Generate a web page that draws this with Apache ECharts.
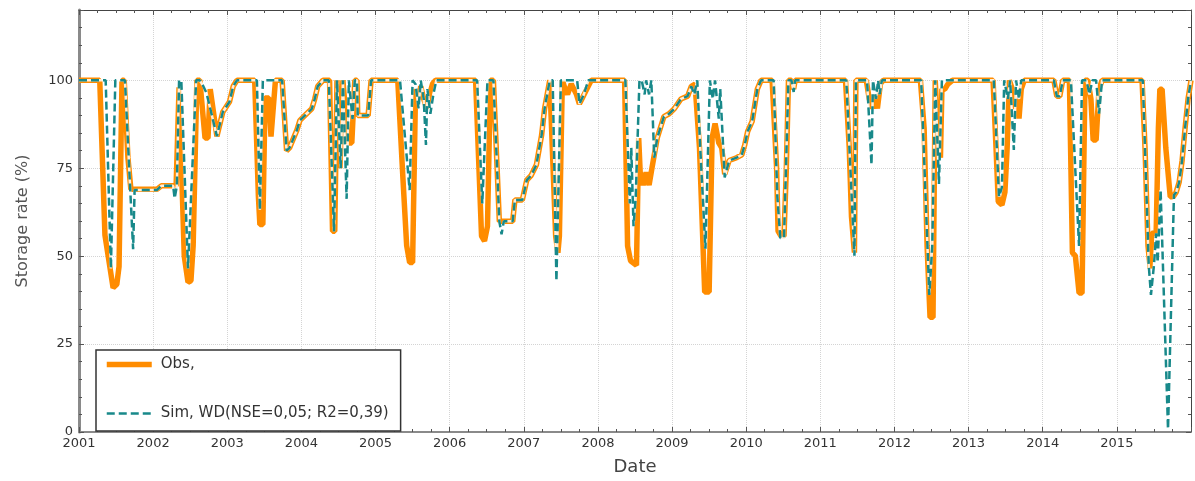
<!DOCTYPE html>
<html>
<head>
<meta charset="utf-8">
<script src="https://cdn.jsdelivr.net/npm/echarts@6/dist/echarts.min.js"></script>
<style>
  html, body { margin: 0; padding: 0; background: #fff; }
  #chart { width: 1195px; height: 481px; }
</style>
</head>
<body>
<div id="chart"></div>
<script>
// decimal year / storage rate (%)
const obsYear = [
  2001.00, 2001.28, 2001.35, 2001.46, 2001.51, 2001.54, 2001.58, 2001.61, 2001.66, 2001.70,
  2002.05, 2002.11, 2002.31, 2002.35, 2002.42, 2002.47, 2002.51, 2002.54, 2002.59, 2002.63,
  2002.70, 2002.74, 2002.77, 2002.86, 2002.94, 2003.03, 2003.08, 2003.13, 2003.37, 2003.42,
  2003.44, 2003.48, 2003.51, 2003.56, 2003.59, 2003.61, 2003.65, 2003.74, 2003.80, 2003.84,
  2003.94, 2003.98, 2004.07, 2004.14, 2004.18, 2004.22, 2004.29, 2004.38, 2004.42, 2004.45,
  2004.48, 2004.50, 2004.52, 2004.54, 2004.56, 2004.58, 2004.63, 2004.68, 2004.72, 2004.75,
  2004.76, 2004.90, 2004.94, 2005.30, 2005.37, 2005.42, 2005.46, 2005.50, 2005.54, 2005.58,
  2005.61, 2005.65, 2005.69, 2005.73, 2005.77, 2005.81, 2006.35, 2006.40, 2006.43, 2006.47,
  2006.51, 2006.55, 2006.59, 2006.67, 2006.85, 2006.88, 2006.98, 2007.04, 2007.10, 2007.17,
  2007.24, 2007.28, 2007.35, 2007.37, 2007.43, 2007.46, 2007.48, 2007.52, 2007.55, 2007.59,
  2007.64, 2007.71, 2007.75, 2007.79, 2007.85, 2007.91, 2008.36, 2008.40, 2008.44, 2008.52,
  2008.55, 2008.57, 2008.61, 2008.65, 2008.69, 2008.73, 2008.80, 2008.89, 2008.96, 2009.03,
  2009.12, 2009.21, 2009.26, 2009.31, 2009.37, 2009.44, 2009.50, 2009.54, 2009.58, 2009.63,
  2009.67, 2009.71, 2009.77, 2009.87, 2009.94, 2009.98, 2010.02, 2010.08, 2010.15, 2010.20,
  2010.35, 2010.41, 2010.43, 2010.47, 2010.51, 2010.54, 2010.57, 2010.61, 2010.64, 2010.66,
  2011.34, 2011.39, 2011.42, 2011.46, 2011.48, 2011.62, 2011.66, 2011.70, 2011.73, 2011.77,
  2011.81, 2011.85, 2012.35, 2012.40, 2012.44, 2012.48, 2012.52, 2012.55, 2012.58, 2012.62,
  2012.64, 2012.68, 2012.72, 2012.78, 2013.33, 2013.37, 2013.40, 2013.45, 2013.49, 2013.52,
  2013.55, 2013.59, 2013.63, 2013.66, 2013.68, 2013.71, 2013.75, 2014.15, 2014.19, 2014.23,
  2014.27, 2014.36, 2014.40, 2014.44, 2014.49, 2014.53, 2014.57, 2014.61, 2014.65, 2014.68,
  2014.72, 2014.76, 2014.80, 2015.34, 2015.38, 2015.42, 2015.45, 2015.47, 2015.53, 2015.56,
  2015.58, 2015.61, 2015.66, 2015.72, 2015.76, 2015.80, 2015.84, 2015.88, 2015.92, 2015.96,
  2016.00
]
const obsRate = [
  100, 100, 56, 41, 42, 47, 100, 100, 78, 69,
  69, 70, 70, 98, 50, 42.6, 43, 53, 100, 100,
  83.6, 83.6, 97.5, 84.1, 91, 93.9, 98.3, 100, 100, 67,
  59, 59, 95, 95, 84, 84, 100, 100, 80, 80.8,
  85.9, 88.6, 90.5, 91.9, 94.7, 98.3, 100, 100, 57.1, 57.1,
  100, 100, 75, 75, 100, 100, 82.2, 82.2, 100, 100,
  90, 90, 100, 100, 72, 53, 48.2, 48.2, 97.5, 94.7,
  98.3, 94.7, 92, 96, 99, 100, 100, 72.4, 55.7, 54.3,
  58.5, 100, 100, 59.9, 59.9, 66, 66, 71.6, 73, 76,
  84.4, 91.9, 100, 100, 55.7, 51, 55.7, 100, 98, 96,
  99, 96, 93.3, 95, 97.5, 100, 100, 52.9, 48.7, 47.4,
  83.6, 73.8, 70.2, 73.8, 70.2, 75.2, 83.6, 89.7, 90.5, 91.9,
  94.7, 95.5, 98.3, 98.9, 80.8, 39.8, 39.8, 83.6, 87.7, 82.2,
  80.8, 73.3, 77.2, 78, 78.8, 81.6, 85.5, 88.3, 97.5, 100,
  100, 75.2, 57.1, 55.7, 55.7, 73.8, 100, 100, 97.5, 100,
  100, 80.8, 61.3, 51, 100, 100, 94.7, 92, 96, 92,
  99, 100, 100, 86.4, 52.9, 32.6, 32.6, 100, 86.4, 78,
  97.5, 97.5, 98.9, 100, 100, 80.8, 65.5, 64.6, 68.2, 80.8,
  100, 97.5, 91.9, 94.7, 89.1, 97.5, 100, 100, 95.5, 95.5,
  100, 100, 51, 50.1, 39.5, 39.5, 100, 100, 94.7, 83,
  83, 97.5, 100, 100, 80.8, 52.9, 46.5, 56.5, 56.5, 86.4,
  97.5, 97.5, 80.8, 66.9, 66.9, 68.2, 71, 77.2, 86.4, 94.7,
  100
]

const simYear = [
  2001.00, 2001.36, 2001.43, 2001.49, 2001.62, 2001.73, 2001.75, 2002.05, 2002.11, 2002.27,
  2002.29, 2002.32, 2002.35, 2002.38, 2002.47, 2002.58, 2002.63, 2002.67, 2002.72, 2002.86,
  2002.94, 2003.03, 2003.08, 2003.13, 2003.40, 2003.44, 2003.48, 2003.74, 2003.80, 2003.84,
  2003.94, 2003.98, 2004.07, 2004.14, 2004.18, 2004.22, 2004.29, 2004.37, 2004.44, 2004.48,
  2004.50, 2004.53, 2004.56, 2004.58, 2004.61, 2004.64, 2004.66, 2004.69, 2004.72, 2004.75,
  2004.76, 2004.90, 2004.94, 2005.33, 2005.46, 2005.50, 2005.54, 2005.58, 2005.61, 2005.65,
  2005.68, 2005.70, 2005.74, 2005.78, 2005.82, 2006.37, 2006.44, 2006.51, 2006.59, 2006.67,
  2006.70, 2006.73, 2006.85, 2006.88, 2006.98, 2007.04, 2007.10, 2007.17, 2007.24, 2007.28,
  2007.35, 2007.39, 2007.44, 2007.50, 2007.72, 2007.75, 2007.81, 2007.87, 2008.37, 2008.43,
  2008.45, 2008.48, 2008.51, 2008.56, 2008.59, 2008.63, 2008.65, 2008.69, 2008.72, 2008.76,
  2008.80, 2008.89, 2008.96, 2009.03, 2009.12, 2009.21, 2009.26, 2009.30, 2009.34, 2009.38,
  2009.45, 2009.47, 2009.51, 2009.55, 2009.58, 2009.63, 2009.65, 2009.71, 2009.77, 2009.87,
  2009.94, 2009.98, 2010.02, 2010.08, 2010.15, 2010.20, 2010.37, 2010.42, 2010.46, 2010.51,
  2010.57, 2010.61, 2010.64, 2010.66, 2011.35, 2011.46, 2011.48, 2011.63, 2011.69, 2011.71,
  2011.75, 2011.78, 2011.80, 2011.83, 2012.36, 2012.47, 2012.51, 2012.55, 2012.60, 2012.64,
  2013.34, 2013.41, 2013.45, 2013.48, 2013.53, 2013.56, 2013.61, 2013.64, 2013.68, 2013.71,
  2014.15, 2014.19, 2014.23, 2014.27, 2014.38, 2014.49, 2014.53, 2014.59, 2014.63, 2014.67,
  2014.72, 2014.76, 2014.80, 2015.35, 2015.43, 2015.46, 2015.50, 2015.53, 2015.55, 2015.59,
  2015.69, 2015.71, 2015.77, 2015.80, 2015.84, 2015.88, 2015.92, 2015.96, 2016.00
]
const simRate = [
  100, 100, 46.5, 100, 100, 52, 68.8, 68.8, 70, 70,
  66.4, 70, 100, 100, 46.5, 100, 100, 98.6, 96.4, 84.1,
  91, 93.9, 98.3, 100, 100, 63.2, 100, 100, 80, 80.8,
  85.9, 88.6, 90.5, 91.9, 94.7, 98.3, 100, 100, 57, 100,
  100, 75, 100, 100, 66.3, 100, 100, 89, 100, 100,
  90, 90, 100, 100, 68.8, 100, 98.9, 92, 100, 94.7,
  81.6, 97.5, 90.5, 96, 100, 100, 65, 100, 100, 59.9,
  56.2, 59.9, 59.9, 66, 66, 71.6, 73, 76, 84.4, 91.9,
  100, 100, 42.9, 100, 100, 93.3, 96, 100, 100, 65,
  80.8, 58.5, 66.9, 100, 100, 96, 100, 96, 100, 78,
  83.6, 89.7, 90.5, 91.9, 94.7, 95.5, 98.3, 96, 100, 80.8,
  52.1, 52.1, 100, 94.7, 100, 89.1, 97.5, 72.4, 77.2, 78,
  78.8, 81.6, 85.5, 88.3, 97.5, 100, 100, 66.9, 55.2, 55.2,
  100, 100, 96.7, 100, 100, 50.1, 100, 100, 76, 100,
  94.7, 100, 96, 100, 100, 39, 52.9, 100, 70.5, 100,
  100, 66.9, 69.6, 100, 94.7, 100, 80.2, 100, 94.7, 100,
  100, 95.5, 95.5, 100, 100, 52.9, 100, 100, 96, 100,
  100, 90.5, 100, 100, 47.4, 39, 47.4, 56.5, 48.2, 68.8,
  0.8, 0.8, 67.4, 68.2, 71, 77.2, 86.4, 94.7, 100
]

const yTicks = [0, 25, 50, 75, 100]
const obsName = 'Obs,'
const simName = 'Sim, WD(NSE=0,05; R2=0,39)'

const obsData = obsYear.map((y, i) => [y, obsRate[i]])
const simData = simYear.map((y, i) => [y, simRate[i]])

const chart = echarts.init(document.getElementById('chart'))

const tickStyle = { color: '#555', width: 1 }
const xBase = {
  type: 'value',
  min: 2001,
  max: 2016,
  interval: 1,
  axisTick: { show: true, inside: true, length: 5, lineStyle: tickStyle },
  minorTick: { show: true, splitNumber: 4, length: 3, lineStyle: tickStyle },
}
const yBase = {
  type: 'value',
  min: 0,
  max: 120,
  interval: 25,
  axisTick: { show: true, inside: true, length: 5, lineStyle: tickStyle },
  minorTick: { show: true, splitNumber: 5, length: 3, lineStyle: tickStyle },
}

const option = {
  animation: false,
  backgroundColor: '#fff',
  textStyle: { fontFamily: 'DejaVu Sans, Verdana, sans-serif' },
  grid: { left: 79, right: 4, top: 10, bottom: 41, containLabel: false },
  legend: {
    data: [obsName, simName],
    orient: 'vertical',
    left: 96,
    top: 350,
    itemWidth: 45,
    itemHeight: 14,
    itemGap: 34,
    padding: [7, 12, 10, 8],
    borderColor: '#333',
    borderWidth: 1.5,
    backgroundColor: '#fff',
    lineStyle: { width: 'inherit' },
    itemStyle: { opacity: 0 },
    textStyle: { fontSize: 15, color: '#333', padding: [0, 0, 4, 4] },
  },
  xAxis: [
    {
      ...xBase,
      position: 'bottom',
      axisLine: { show: true, onZero: false, lineStyle: { color: '#8a8a8a', width: 2 } },
      axisLabel: {
        show: true,
        color: '#333',
        fontSize: 13,
        margin: 5,
        showMaxLabel: false,
        formatter: (v) => String(v),
      },
      splitLine: { show: true, lineStyle: { color: '#d4d4d4', type: 'dotted', width: 1 } },
      name: 'Date',
      nameLocation: 'middle',
      nameGap: 26,
      nameTextStyle: { fontSize: 18, color: '#444' },
    },
    {
      ...xBase,
      position: 'top',
      axisLine: { show: true, onZero: false, lineStyle: { color: '#444', width: 1 } },
      axisLabel: { show: false },
      splitLine: { show: false },
    },
  ],
  yAxis: [
    {
      ...yBase,
      position: 'left',
      axisLine: { show: true, onZero: false, lineStyle: { color: '#8a8a8a', width: 3 } },
      axisLabel: {
        show: true,
        color: '#333',
        fontSize: 13,
        margin: 6,
        formatter: (v) => (yTicks.includes(v) ? String(v) : ''),
      },
      splitLine: { show: true, lineStyle: { color: '#d4d4d4', type: 'dotted', width: 1 } },
      name: 'Storage rate (%)',
      nameLocation: 'middle',
      nameGap: 48,
      nameTextStyle: { fontSize: 16, color: '#555' },
    },
    {
      ...yBase,
      position: 'right',
      axisLine: { show: true, onZero: false, lineStyle: { color: '#444', width: 1 } },
      axisLabel: { show: false },
      splitLine: { show: false },
    },
  ],
  series: [
    {
      name: obsName,
      type: 'line',
      data: obsData,
      symbol: 'none',
      lineStyle: { color: '#ff8c00', width: 5.5 },
      itemStyle: { color: '#ff8c00' },
      z: 2,
    },
    {
      // white under the dashes, as in the original
      name: 'simBack',
      type: 'line',
      data: simData,
      symbol: 'none',
      silent: true,
      lineStyle: { color: '#ffffff', width: 2.5, opacity: 0.85 },
      z: 3,
    },
    {
      name: simName,
      type: 'line',
      data: simData,
      symbol: 'none',
      lineStyle: { color: '#18898a', width: 2.5, type: [8, 4] },
      itemStyle: { color: '#18898a' },
      z: 4,
    },
  ],
}

chart.setOption(option)
</script>
</body>
</html>
